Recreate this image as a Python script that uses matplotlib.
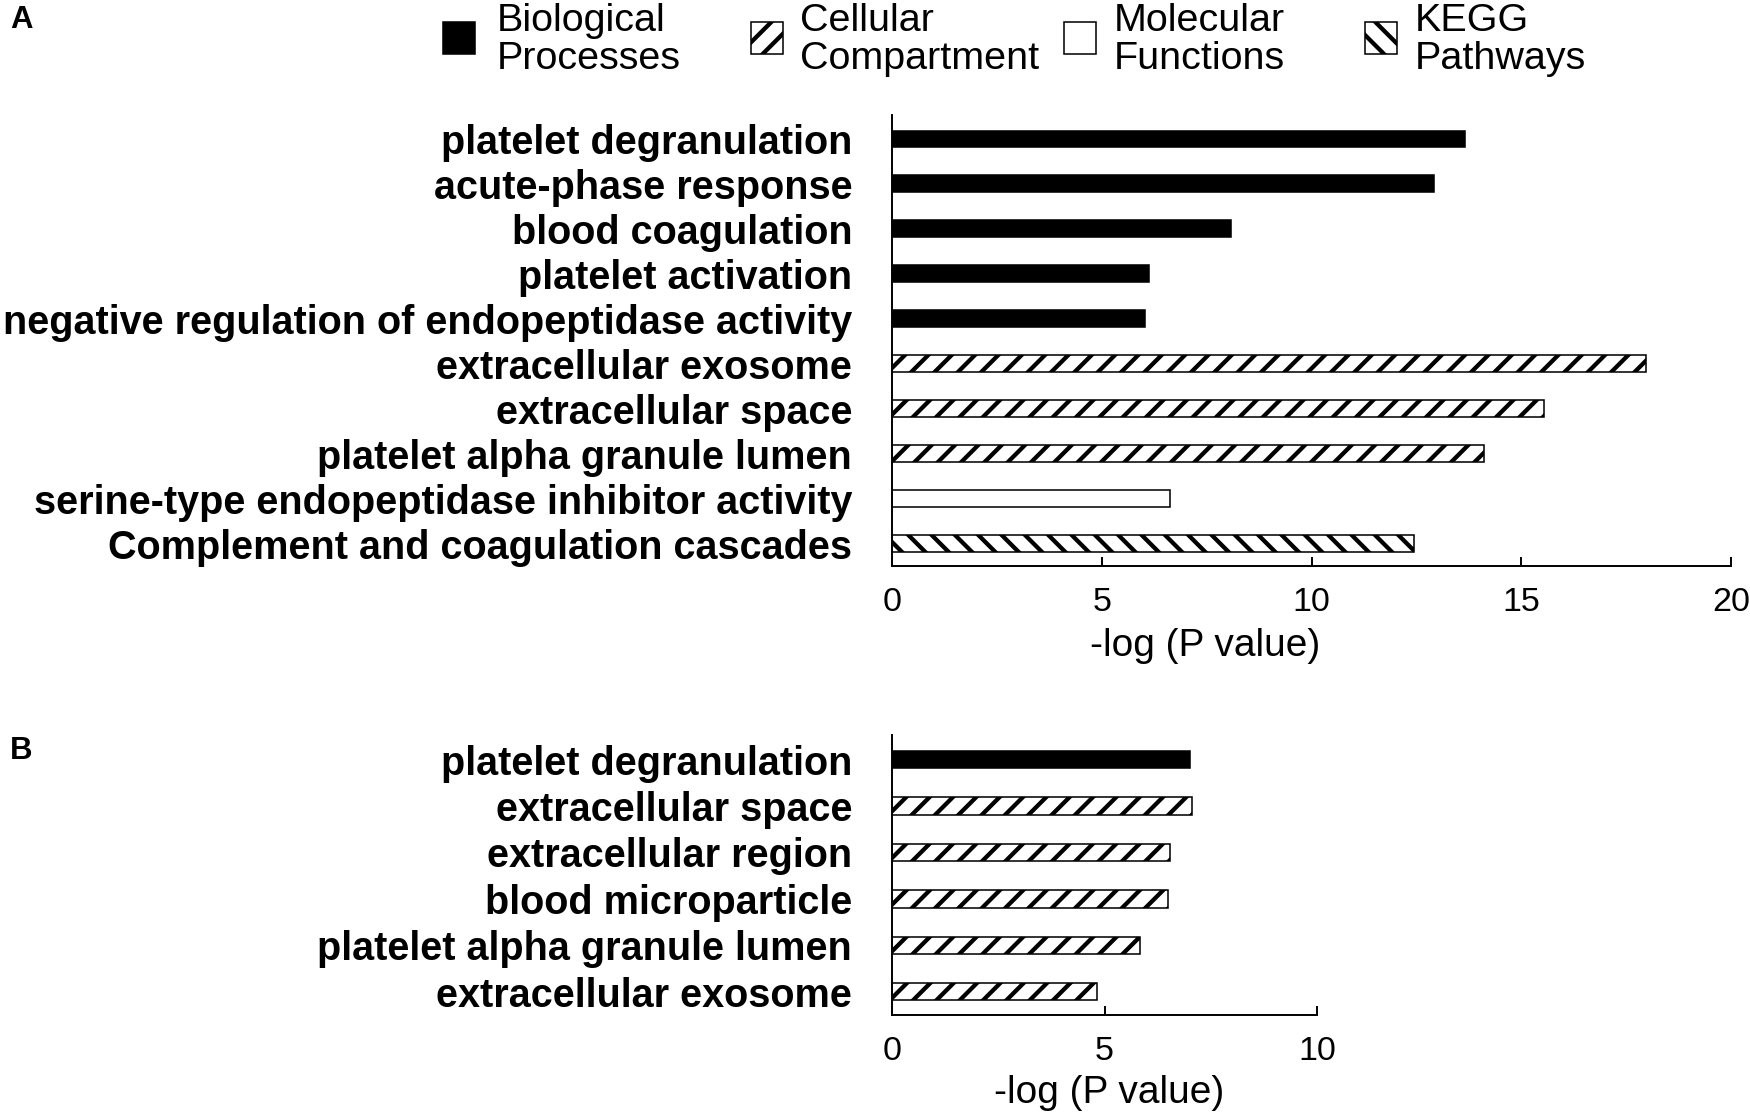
import matplotlib
matplotlib.use('Agg')
import matplotlib.pyplot as plt
from matplotlib.patches import Rectangle

plt.rcParams['font.family'] = ['Liberation Sans', 'DejaVu Sans']
plt.rcParams['hatch.linewidth'] = 2.2
plt.rcParams['hatch.color'] = 'black'

# ===== データ =====
categories = ['Biological\nProcesses', 'Cellular\nCompartment', 'Molecular\nFunctions', 'KEGG\nPathways']
cat_face = ['black', 'white', 'white', 'white']
cat_hatch = [None, '//', None, '\\\\']

terms_a = ['platelet degranulation', 'acute-phase response', 'blood coagulation',
           'platelet activation', 'negative regulation of endopeptidase activity',
           'extracellular exosome', 'extracellular space', 'platelet alpha granule lumen',
           'serine-type endopeptidase inhibitor activity', 'Complement and coagulation cascades']
values_a = [13.66, 12.92, 8.09, 6.12, 6.03, 17.97, 15.54, 14.12, 6.63, 12.44]
types_a = [0, 0, 0, 0, 0, 1, 1, 1, 2, 3]

terms_b = ['platelet degranulation', 'extracellular space', 'extracellular region',
           'blood microparticle', 'platelet alpha granule lumen', 'extracellular exosome']
values_b = [7.01, 7.06, 6.55, 6.50, 5.84, 4.83]
types_b = [0, 1, 1, 1, 1, 1]

xticks_a = [0, 5, 10, 15, 20]
xticks_b = [0, 5, 10]

W, H = 1750, 1115
fig = plt.figure(figsize=(12.5, 7.9643), dpi=140)


def draw_panel(ax, terms, values, types, xticks, label_xy):
    for i, (v, t) in enumerate(zip(values, types)):
        ax.barh(i, v, height=0.37, color=cat_face[t], edgecolor='black',
                hatch=cat_hatch[t], linewidth=0.8)
    ax.set_yticks(range(len(terms)))
    ax.set_yticklabels(terms, fontweight='bold')
    ax.set_ylim(len(terms) - 0.5, -0.53)
    ax.set_xlim(xticks[0], xticks[-1])
    ax.set_xticks(xticks)
    for s in ['top', 'right']:
        ax.spines[s].set_visible(False)
    for s in ['left', 'bottom']:
        ax.spines[s].set_linewidth(1.0)
    ax.tick_params(axis='x', direction='in', length=4.6, width=1.0, pad=11, labelsize=17.5)
    ax.tick_params(axis='y', length=0, pad=20.5, labelsize=20.4)
    ax.set_xlabel('-log (P value)', fontsize=20)
    ax.xaxis.set_label_coords(*label_xy)


ax_a = fig.add_axes([892 / W, 1 - 566 / H, (1731 - 892) / W, (566 - 115) / H])
draw_panel(ax_a, terms_a, values_a, types_a, xticks_a, (0.373, -0.138))

ax_b = fig.add_axes([892 / W, 1 - 1015 / H, (1317 - 892) / W, (1015 - 735) / H])
draw_panel(ax_b, terms_b, values_b, types_b, xticks_b, (0.51, -0.215))

# パネル記号
fig.text(10 / W, 1 - 20 / H, 'A', fontsize=16, fontweight='bold', va='center')
fig.text(10 / W, 1 - 751 / H, 'B', fontsize=16, fontweight='bold', va='center')

# 凡例（手置き）
box_x = [443, 751, 1064, 1365]
text_x = [497, 800, 1114, 1415]
for i, name in enumerate(categories):
    fig.patches.append(Rectangle((box_x[i] / W, 1 - 54 / H), 32 / W, 32 / H,
                                 transform=fig.transFigure, facecolor=cat_face[i],
                                 edgecolor='black', hatch=cat_hatch[i], linewidth=0.8))
    fig.text(text_x[i] / W, 1 - 40 / H, name, fontsize=20.3, va='center', ha='left',
             linespacing=1.08)

fig.savefig('out.png', dpi=140)
